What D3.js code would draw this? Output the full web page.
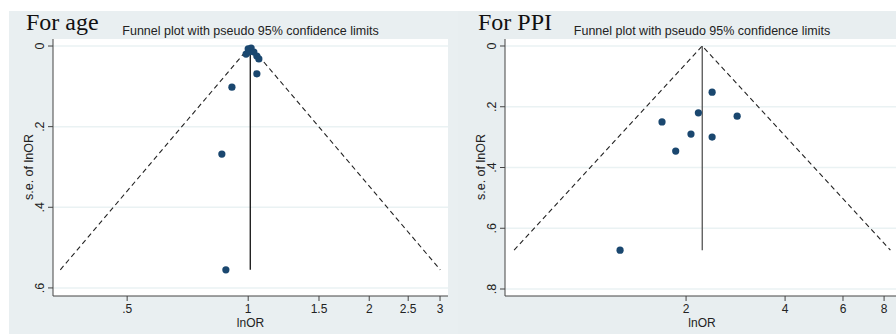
<!DOCTYPE html>
<html>
<head>
<meta charset="utf-8">
<script src="https://cdn.jsdelivr.net/npm/d3@7"></script>
<style>
  body { margin: 0; background: #fff; }
  text { font-family: "Liberation Sans", Arial, sans-serif; fill: #222; }
</style>
</head>
<body>
<div id="chart"></div>
<script>
// panel 1: age
var ageOR = [1.0, 1.017, 0.988, 1.004, 1.033, 1.051, 1.063, 1.051, 0.911, 0.86, 0.88];
var ageSE = [0.007, 0.005, 0.02, 0.015, 0.015, 0.025, 0.032, 0.069, 0.102, 0.268, 0.555];
var agePooled = 1.012;
var ageXTicks = [0.5, 1, 1.5, 2, 2.5, 3];
var ageYTicks = [0, 0.2, 0.4, 0.6];

// panel 2: PPI
var ppiOR = [2.40, 2.18, 2.86, 1.69, 2.07, 2.40, 1.86, 1.26];
var ppiSE = [0.152, 0.22, 0.231, 0.25, 0.29, 0.30, 0.346, 0.672];
var ppiPooled = 2.24;
var ppiXTicks = [2, 4, 6, 8];
var ppiYTicks = [0, 0.2, 0.4, 0.6, 0.8];

var width = 896, height = 334;
var navy = "#1a476f";

var svg = d3.select("#chart").append("svg")
    .attr("width", width)
    .attr("height", height);

function fmt(v) {
  return String(v).replace(/^0\./, ".");
}

function drawPanel(cfg) {
  var g = svg.append("g");

  // panel background
  g.append("rect")
    .attr("x", cfg.bx).attr("y", 11)
    .attr("width", cfg.bw).attr("height", height - 11)
    .attr("fill", cfg.bg);

  var x = d3.scaleLog().domain(cfg.xdom).range([cfg.left, cfg.right]);
  var y = d3.scaleLinear().domain(cfg.ydom).range([39, 296]);

  // plot region
  g.append("rect")
    .attr("x", cfg.left).attr("y", 39)
    .attr("width", cfg.right - cfg.left).attr("height", 296 - 39)
    .attr("fill", "#fff");

  // grid
  g.selectAll(".grid").data(cfg.yticks).enter().append("line")
    .attr("x1", cfg.left).attr("x2", cfg.right)
    .attr("y1", function(d) { return y(d); })
    .attr("y2", function(d) { return y(d); })
    .attr("stroke", "#eaf2f3").attr("stroke-width", 1.5);

  var seMax = d3.max(cfg.se);
  var lp = Math.log(cfg.pooled);

  // funnel limits
  var funnel = [
    [Math.exp(lp - 1.96 * seMax), seMax],
    [cfg.pooled, 0],
    [Math.exp(lp + 1.96 * seMax), seMax]
  ];
  g.append("path")
    .attr("d", d3.line().x(function(d) { return x(d[0]); }).y(function(d) { return y(d[1]); })(funnel))
    .attr("fill", "none")
    .attr("stroke", "#222")
    .attr("stroke-width", 1.1)
    .attr("stroke-dasharray", "5,3.5");

  // pooled line
  g.append("line")
    .attr("x1", x(cfg.pooled)).attr("x2", x(cfg.pooled))
    .attr("y1", y(0)).attr("y2", y(seMax))
    .attr("stroke", cfg.vcol).attr("stroke-width", 1.3);

  // points
  g.selectAll(".pt").data(cfg.or).enter().append("circle")
    .attr("cx", function(d) { return x(d); })
    .attr("cy", function(d, i) { return y(cfg.se[i]); })
    .attr("r", 3.6)
    .attr("fill", navy);

  // axes
  g.append("line")
    .attr("x1", cfg.left).attr("x2", cfg.left)
    .attr("y1", 39).attr("y2", 296)
    .attr("stroke", "#444").attr("stroke-width", 1);
  g.append("line")
    .attr("x1", cfg.left).attr("x2", cfg.right)
    .attr("y1", 296).attr("y2", 296)
    .attr("stroke", "#444").attr("stroke-width", 1);

  g.selectAll(".yt").data(cfg.yticks).enter().append("line")
    .attr("x1", cfg.left - 5).attr("x2", cfg.left)
    .attr("y1", function(d) { return y(d); })
    .attr("y2", function(d) { return y(d); })
    .attr("stroke", "#444");
  g.selectAll(".ytl").data(cfg.yticks).enter().append("text")
    .attr("transform", function(d) { return "translate(" + (cfg.left - 9) + "," + y(d) + ") rotate(-90)"; })
    .attr("text-anchor", "middle")
    .style("font-size", "12.5px")
    .text(fmt);

  g.selectAll(".xt").data(cfg.xticks).enter().append("line")
    .attr("x1", function(d) { return x(d); })
    .attr("x2", function(d) { return x(d); })
    .attr("y1", 296).attr("y2", 301)
    .attr("stroke", "#444");
  g.selectAll(".xtl").data(cfg.xticks).enter().append("text")
    .attr("x", function(d) { return x(d); })
    .attr("y", 313)
    .attr("text-anchor", "middle")
    .style("font-size", "12px")
    .text(fmt);

  var cx = (cfg.left + cfg.right) / 2;
  g.append("text")
    .attr("x", cx).attr("y", 327)
    .attr("text-anchor", "middle")
    .style("font-size", "12px")
    .text("lnOR");
  g.append("text")
    .attr("transform", "translate(" + (cfg.left - 20) + "," + 167 + ") rotate(-90)")
    .attr("text-anchor", "middle")
    .style("font-size", "12.5px")
    .text("s.e. of lnOR");

  g.append("text")
    .attr("x", cx).attr("y", 35)
    .attr("text-anchor", "middle")
    .style("font-size", "12.5px")
    .text("Funnel plot with pseudo 95% confidence limits");

  g.append("text")
    .attr("x", cfg.tx).attr("y", 30)
    .style("font-family", "'Liberation Serif', 'Times New Roman', serif")
    .style("font-size", "24px")
    .style("fill", "#111")
    .text(cfg.title);
}

drawPanel({
  title: "For age", tx: 26,
  bx: 9, bw: 449, bg: "#e9eff1",
  left: 53, right: 448,
  xdom: [0.327, 3.14], ydom: [-0.0174, 0.62],
  or: ageOR, se: ageSE, pooled: agePooled,
  xticks: ageXTicks, yticks: ageYTicks, vcol: "#111"
});

drawPanel({
  title: "For PPI", tx: 478,
  bx: 458, bw: 438, bg: "#e8eef0",
  left: 505, right: 899,
  xdom: [0.563, 8.88], ydom: [-0.023, 0.823],
  or: ppiOR, se: ppiSE, pooled: ppiPooled,
  xticks: ppiXTicks, yticks: ppiYTicks, vcol: "#555"
});
</script>
</body>
</html>
